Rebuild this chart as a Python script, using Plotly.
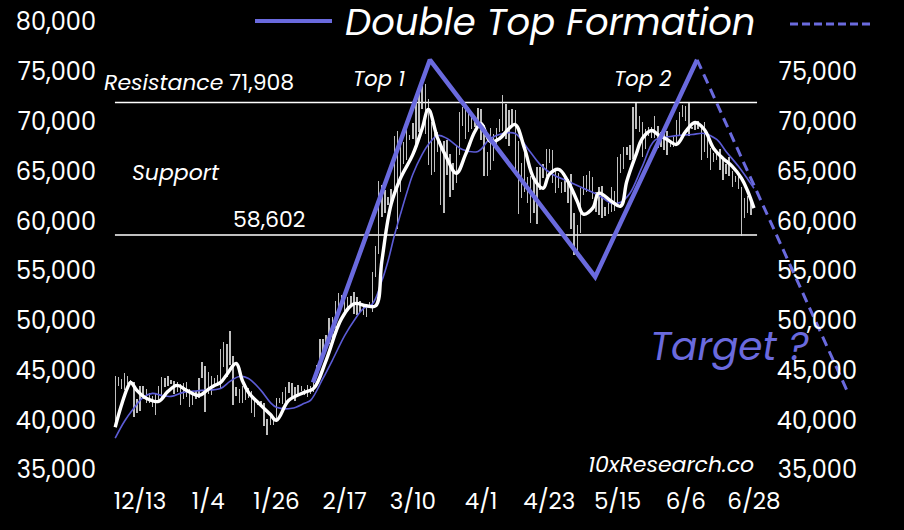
import pandas as pd
import plotly.graph_objects as go

# ---------------- data ----------------
bar_start, bar_end = "2023-12-05", "2024-06-27"
low_k = (
    # Dec (5..31)
    [39.7, 43.4, 43.1, 43.0, 43.6, 43.6, 40.3, 40.7, 40.9, 42.1, 41.7, 41.7, 41.3, 40.5,
     41.8, 42.2, 43.3, 43.4, 43.6, 42.6, 42.8, 41.5, 42.1, 42.3, 41.3, 41.5, 42.1]
    # Jan
    + [42.2, 44.2, 40.8, 42.6, 42.5, 43.4, 43.6, 43.2, 45.3, 44.3, 45.6, 41.5, 42.4, 41.7,
       41.7, 42.0, 42.2, 40.7, 40.3, 41.5, 41.5, 39.4, 38.5, 39.5, 39.5, 39.8, 41.7, 41.6,
       41.8, 42.7, 42.3]
    # Feb
    + [41.9, 42.6, 42.9, 42.5, 42.3, 42.6, 42.8, 44.3, 45.3, 46.8, 47.7, 47.7, 48.3, 49.3,
       51.3, 51.6, 50.6, 51.2, 51.7, 50.7, 50.6, 50.9, 50.6, 50.4, 51.3, 50.9, 54.4, 56.7, 60.4]
    # Mar
    + [60.8, 61.6, 61.3, 62.8, 59.2, 62.9, 65.7, 66.1, 68.1, 68.2, 67.5, 68.9, 71.3, 68.7,
       65.6, 64.6, 64.9, 66.9, 61.6, 60.8, 64.6, 62.4, 63.1, 63.8, 66.6, 69.6, 68.2, 68.9,
       69.2, 69.5, 69.6]
    # Apr
    + [68.1, 64.5, 64.5, 65.1, 66.0, 67.7, 68.9, 69.0, 68.2, 67.5, 69.6, 65.1, 60.7, 62.3,
       62.9, 61.8, 59.8, 60.8, 59.7, 63.1, 64.3, 64.5, 65.8, 63.8, 62.8, 63.3, 62.8, 62.9,
       61.8, 59.2]
    # May
    + [56.6, 56.9, 58.8, 62.6, 62.9, 62.9, 62.2, 60.9, 60.6, 60.3, 60.5, 60.7, 60.9, 61.0,
       61.4, 64.8, 65.2, 66.6, 66.1, 66.2, 69.2, 68.9, 66.4, 67.2, 68.5, 68.3, 68.3, 67.3,
       67.4, 67.1, 66.6]
    # Jun (1..27)
    + [67.4, 67.4, 67.7, 68.5, 70.5, 70.1, 68.5, 69.2, 69.1, 69.2, 66.1, 66.9, 66.3, 65.1,
       65.9, 66.1, 65.1, 64.1, 64.7, 64.5, 63.4, 63.9, 63.2, 58.5, 60.3, 60.8, 60.6]
)
high_k = (
    [44.4, 44.3, 44.1, 44.7, 44.4, 44.0, 43.8, 42.1, 43.4, 43.4, 43.1, 42.7, 42.4, 42.7,
     43.4, 44.3, 44.2, 44.4, 44.0, 43.9, 43.8, 43.6, 43.7, 43.8, 43.1, 42.6, 42.9]
    + [44.2, 45.9, 45.5, 44.8, 44.4, 44.2, 44.5, 47.2, 47.9, 47.7, 49.0, 46.5, 43.3, 43.1,
       43.4, 43.6, 43.2, 42.9, 42.2, 41.9, 41.9, 41.7, 40.1, 40.5, 40.3, 42.2, 42.2, 42.8,
       43.3, 43.8, 43.7]
    + [43.3, 43.5, 43.4, 43.1, 43.5, 43.4, 44.4, 45.6, 48.2, 48.2, 48.6, 50.3, 50.4, 52.0,
       52.8, 52.6, 52.2, 52.4, 52.5, 52.9, 52.4, 52.0, 51.5, 51.7, 51.9, 54.9, 57.5, 64.0, 63.6]
    + [63.1, 62.4, 63.2, 68.5, 69.0, 67.6, 67.9, 70.1, 68.6, 69.9, 72.8, 73.0, 73.6, 73.8,
       72.3, 70.0, 68.8, 68.9, 68.0, 68.0, 68.1, 66.7, 65.8, 67.5, 71.0, 71.5, 71.7, 71.5,
       70.9, 70.3, 71.4]
    + [71.3, 69.7, 66.9, 69.3, 68.7, 69.4, 70.3, 72.7, 71.8, 71.2, 71.3, 71.2, 68.0, 65.8,
       66.8, 64.4, 64.5, 64.1, 65.4, 65.4, 65.7, 67.2, 67.2, 67.1, 65.2, 64.8, 63.9, 64.3,
       64.2, 64.7]
    + [60.8, 59.6, 63.3, 64.5, 64.6, 65.0, 64.4, 62.9, 63.4, 63.5, 61.4, 61.8, 63.4, 63.0,
       66.4, 66.7, 67.4, 67.4, 67.6, 71.5, 71.9, 70.6, 70.0, 69.2, 69.5, 69.5, 70.6, 69.6,
       68.9, 69.5, 69.0]
    + [67.9, 68.4, 70.2, 71.0, 71.7, 71.6, 71.9, 69.5, 69.9, 70.1, 69.5, 70.0, 68.4, 67.3,
       66.8, 67.0, 67.2, 66.4, 65.7, 66.4, 65.0, 64.5, 64.5, 63.4, 62.3, 62.5, 62.3]
)

fast_dates = ["2023-12-05", "2023-12-07", "2023-12-09", "2023-12-10", "2023-12-12", "2023-12-15",
              "2023-12-19", "2023-12-22", "2023-12-25", "2023-12-28", "2024-01-01", "2024-01-04",
              "2024-01-06", "2024-01-08", "2024-01-10", "2024-01-13", "2024-01-15", "2024-01-17",
              "2024-01-21", "2024-01-24", "2024-01-26", "2024-01-30", "2024-02-04", "2024-02-07",
              "2024-02-11", "2024-02-16", "2024-02-20", "2024-02-24", "2024-02-27", "2024-02-29",
              "2024-03-03", "2024-03-06", "2024-03-10", "2024-03-13", "2024-03-15", "2024-03-18",
              "2024-03-21", "2024-03-24", "2024-03-27", "2024-03-30", "2024-04-01", "2024-04-04",
              "2024-04-07", "2024-04-10", "2024-04-12", "2024-04-15", "2024-04-18", "2024-04-21",
              "2024-04-23", "2024-04-26", "2024-04-29", "2024-05-02", "2024-05-04", "2024-05-07",
              "2024-05-09", "2024-05-13", "2024-05-16", "2024-05-18", "2024-05-21", "2024-05-23",
              "2024-05-26", "2024-05-28", "2024-05-31", "2024-06-03", "2024-06-06", "2024-06-09",
              "2024-06-12", "2024-06-15", "2024-06-18", "2024-06-21", "2024-06-24", "2024-06-26",
              "2024-06-28"]
fast_k = [39.3, 41.5, 43.3, 43.8, 43.0, 42.2, 41.9, 42.9, 43.5, 43.0, 42.5, 43.1,
          43.5, 43.8, 44.6, 45.7, 44.0, 42.8, 41.5, 40.6, 40.0, 42.0, 42.8, 43.2,
          46.0, 50.2, 51.7, 51.5, 51.5, 56.0, 61.7, 64.3, 66.7, 69.3, 71.2, 68.3,
          66.3, 64.8, 66.7, 69.0, 69.8, 68.0, 68.3, 69.3, 69.7, 67.3, 64.3, 63.3,
          64.7, 65.2, 64.0, 62.0, 60.7, 61.3, 62.8, 62.0, 61.5, 64.0, 66.7, 68.3,
          69.1, 68.7, 68.2, 67.7, 69.0, 69.9, 69.2, 67.3, 66.3, 65.5, 64.3, 63.0, 61.3]

slow_dates = ["2023-12-05", "2023-12-08", "2023-12-11", "2023-12-14", "2023-12-17", "2023-12-20",
              "2023-12-23", "2023-12-27", "2024-01-02", "2024-01-08", "2024-01-11", "2024-01-14",
              "2024-01-17", "2024-01-21", "2024-01-24", "2024-01-26", "2024-01-31", "2024-02-04",
              "2024-02-06", "2024-02-10", "2024-02-13", "2024-02-17", "2024-02-20", "2024-02-23",
              "2024-02-26", "2024-02-29", "2024-03-02", "2024-03-04", "2024-03-06", "2024-03-08",
              "2024-03-10", "2024-03-13", "2024-03-15", "2024-03-18", "2024-03-21", "2024-03-26",
              "2024-03-31", "2024-04-04", "2024-04-08", "2024-04-12", "2024-04-16", "2024-04-20",
              "2024-04-24", "2024-04-29", "2024-05-04", "2024-05-09", "2024-05-13", "2024-05-16",
              "2024-05-19", "2024-05-23", "2024-05-27", "2024-06-01", "2024-06-08", "2024-06-12",
              "2024-06-16", "2024-06-19", "2024-06-23", "2024-06-26", "2024-06-28"]
slow_k = [38.2, 39.9, 41.2, 42.3, 42.7, 42.5, 42.4, 42.8, 43.0, 43.2, 43.9, 44.4,
          44.2, 43.0, 41.8, 41.3, 41.2, 41.7, 42.0, 44.2, 46.0, 48.5, 50.0, 51.2,
          51.7, 54.0, 56.0, 58.5, 60.7, 62.8, 64.7, 66.7, 67.7, 68.6, 68.3, 67.2,
          67.0, 68.3, 68.8, 68.8, 67.3, 65.7, 64.7, 64.0, 63.3, 62.6, 61.8, 61.9,
          62.8, 65.5, 68.1, 68.5, 68.7, 68.8, 68.2, 67.0, 65.5, 64.2, 63.3]

pattern_dates = ["2024-02-06 19:00", "2024-03-15 12:00", "2024-05-07 19:00", "2024-06-09 16:00"]
pattern_vals = [43800, 76200, 54400, 76200]
target_dates = ["2024-06-09 16:00", "2024-07-28 10:00"]
target_vals = [76200, 42700]

resistance = 71908
support = 58602

x_tick_vals = ["2023-12-13", "2024-01-04", "2024-01-26", "2024-02-17", "2024-03-10",
               "2024-04-01", "2024-04-23", "2024-05-15", "2024-06-06", "2024-06-28"]
x_tick_text = ["12/13", "1/4", "1/26", "2/17", "3/10", "4/1", "4/23", "5/15", "6/6", "6/28"]
y_left_ticks = [35000, 40000, 45000, 50000, 55000, 60000, 65000, 70000, 75000, 80000]
y_right_ticks = [35000, 40000, 45000, 50000, 55000, 60000, 65000, 70000, 75000]

# ---------------- figure ----------------
bar_dates = pd.date_range(bar_start, bar_end, freq="D")
lows = [v * 1000 for v in low_k]
highs = [v * 1000 for v in high_k]
spans = [h - l for h, l in zip(highs, lows)]

BLUE = "#6a6ade"
FONT = "Poppins, Inter, 'Open Sans', sans-serif"
W_, H_ = 904, 530
L, R, T, B = 100, 44, 5, 45
PW, PH = W_ - L - R, H_ - T - B


def px(x):
    return (x - L) / PW


def py(y):
    return (T + PH - y) / PH


fig = go.Figure()
fig.add_trace(go.Bar(x=bar_dates, y=spans, base=lows, width=0.45 * 86400000,
                     marker=dict(color="rgba(225,225,225,0.85)", line=dict(width=0)),
                     hoverinfo="skip", showlegend=False))
fig.add_trace(go.Scatter(x=slow_dates, y=[v * 1000 for v in slow_k], mode="lines",
                         line=dict(color="#5c5cd6", width=1.6, shape="spline"),
                         showlegend=False))
fig.add_trace(go.Scatter(x=fast_dates, y=[v * 1000 for v in fast_k], mode="lines",
                         line=dict(color="white", width=3.4, shape="spline", smoothing=1.1),
                         showlegend=False))
fig.add_trace(go.Scatter(x=pattern_dates, y=pattern_vals, mode="lines",
                         line=dict(color=BLUE, width=4.5), showlegend=False))
fig.add_trace(go.Scatter(x=target_dates, y=target_vals, mode="lines",
                         line=dict(color=BLUE, width=3, dash="10px,6px"), showlegend=False))
fig.add_trace(go.Scatter(x=[None], y=[None], yaxis="y2", showlegend=False))

line_x0, line_x1 = "2023-12-04 22:00", "2024-06-29 00:00"
for lvl in (resistance, support):
    fig.add_shape(type="line", xref="x", yref="y", x0=line_x0, x1=line_x1, y0=lvl, y1=lvl,
                  line=dict(color="white", width=1.6), layer="below")

# legend-like header
fig.add_shape(type="line", xref="paper", yref="paper", x0=px(255), x1=px(332),
              y0=py(19), y1=py(19), line=dict(color=BLUE, width=4))
fig.add_shape(type="line", xref="paper", yref="paper", x0=px(790), x1=px(871),
              y0=py(22), y1=py(22), line=dict(color=BLUE, width=3, dash="8px,4px"))


def ann(text, x, y, size, color="white", xanchor="left"):
    fig.add_annotation(text=text, xref="paper", yref="paper", x=px(x), y=py(y),
                       xanchor=xanchor, yanchor="middle", showarrow=False,
                       font=dict(family=FONT, size=size, color=color))


ann("<i>Double Top Formation</i>", 550, 20, 37, xanchor="center")
ann("<i>Resistance</i> 71,908", 102, 81, 22)
ann("<i>Support</i>", 130, 171, 22)
ann("58,602", 231, 218, 22)
ann("<i>Top 1</i>", 351, 77, 21)
ann("<i>Top 2</i>", 612, 77, 21)
ann("<i>Target ?</i>", 648, 346, 39, color=BLUE)
ann("<i>10xResearch.co</i>", 756, 464, 22, xanchor="right")

fig.update_layout(
    width=W_, height=H_,
    margin=dict(l=L, r=R, t=T, b=B),
    paper_bgcolor="black", plot_bgcolor="black",
    font=dict(family=FONT, color="white", size=20),
    bargap=0, showlegend=False,
    xaxis=dict(type="date", range=["2023-11-30 02:24", "2024-08-01 04:48"],
               tickvals=x_tick_vals, ticktext=x_tick_text, showgrid=False, zeroline=False,
               showline=False, ticks="", tickfont=dict(size=23, color="white")),
    yaxis=dict(range=[33500, 81500], tickvals=y_left_ticks, tickformat=",", showgrid=False,
               zeroline=False, showline=False, ticks="", ticklabelstandoff=3,
               tickfont=dict(size=24, color="white")),
    yaxis2=dict(range=[33500, 81500], overlaying="y", side="right", tickvals=y_right_ticks,
                tickformat=",", ticklabelposition="inside", ticklabeloverflow="allow",
                showgrid=False, zeroline=False, showline=False, ticks="",
                tickfont=dict(size=24, color="white")),
)

fig.write_html("out.html", config={"displayModeBar": False},
               post_script="document.body.style.margin='0px';document.body.style.background='black';")
